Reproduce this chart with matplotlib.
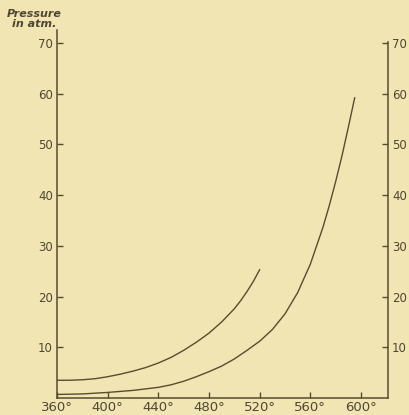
import matplotlib
matplotlib.use("Agg")
import matplotlib.pyplot as plt

# values
temp_upper = [360, 370, 380, 390, 400, 410, 420, 430, 440, 450, 460, 470,
              480, 490, 500, 505, 510, 515, 520]
pres_upper = [3.5, 3.5, 3.6, 3.8, 4.2, 4.7, 5.3, 6.0, 6.9, 8.0, 9.4, 11.0,
              12.8, 15.0, 17.6, 19.2, 21.0, 23.0, 25.3]

temp_lower = [360, 380, 400, 420, 440, 450, 460, 470, 480, 490, 500, 510,
              520, 530, 540, 550, 560, 570, 575, 580, 585, 590, 595]
pres_lower = [0.7, 0.8, 1.1, 1.5, 2.1, 2.6, 3.3, 4.2, 5.2, 6.3, 7.7, 9.4,
              11.2, 13.5, 16.6, 20.8, 26.4, 33.7, 38.0, 42.7, 47.8, 53.4, 59.2]

y_ticks = [10, 20, 30, 40, 50, 60, 70]
x_ticks = [360, 400, 440, 480, 520, 560, 600]
x_labels = [f"{t}°" for t in x_ticks]

bg = "#f1e5b4"
ink = "#574d2e"
txt = "#4f4731"

fig = plt.figure(figsize=(4.09, 4.15), dpi=100, facecolor=bg)
ax = fig.add_axes([57 / 409, 17 / 415, 331 / 409, 367.6 / 415])
ax.set_facecolor(bg)

ax.plot(temp_upper, pres_upper, color=ink, lw=1.0)
ax.plot(temp_lower, pres_lower, color=ink, lw=1.0)

ax.set_xlim(360, 621.3)
ax.set_ylim(0, 72.5)

ax.spines["top"].set_visible(False)
for side in ["left", "right", "bottom"]:
    ax.spines[side].set_color(ink)
    ax.spines[side].set_linewidth(1.1)
ax.spines["right"].set_bounds(0, 70.2)

ax.set_yticks(y_ticks)
ax.set_yticklabels([str(v) for v in y_ticks])
ax.set_xticks(x_ticks)
ax.set_xticklabels(x_labels)

ax.tick_params(axis="y", which="both", direction="in", length=4, width=1,
               color=ink, labelcolor=txt, labelsize=8.5, pad=3,
               left=True, right=True, labelleft=True, labelright=True)
ax.tick_params(axis="x", direction="in", length=4, width=1, color=ink,
               labelcolor=txt, labelsize=9.5, pad=2)

fig.text(34 / 409, 1 - 9 / 415, "Pressure\nin atm.", ha="center", va="top",
         fontsize=8, fontweight="bold", fontstyle="italic", color=txt,
         linespacing=1.0)

fig.savefig("out.png", dpi=100, facecolor=bg)
